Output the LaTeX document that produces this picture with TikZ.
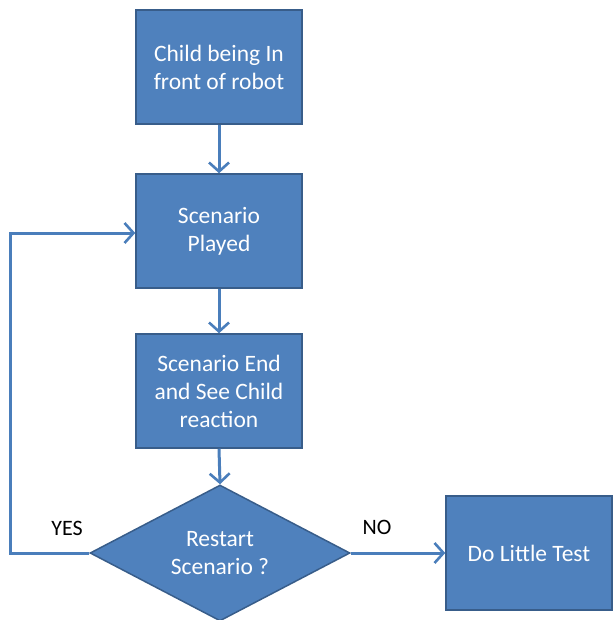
\documentclass[tikz,border=0pt]{standalone}
\usepackage{fontspec}
\setmainfont{Carlito}
\usetikzlibrary{shapes.geometric,arrows.meta}
\definecolor{boxfill}{HTML}{4F81BD}
\definecolor{boxline}{HTML}{385D8A}
\definecolor{arrowc}{HTML}{4A7EBB}
\tikzset{
  stepbox/.style={draw=boxline, fill=boxfill, line width=1.5pt, text=white,
    minimum width=166pt, minimum height=114pt, inner sep=0pt, align=center,
    font=\fontsize{23.5}{28}\selectfont},
  decision/.style={diamond, draw=boxline, fill=boxfill, line width=1.5pt, text=white,
    minimum width=260pt, minimum height=136pt, shape aspect=1.91, inner sep=0pt, align=center,
    font=\fontsize{23.5}{28}\selectfont},
  conn/.style={draw=arrowc, line width=3pt, -{Straight Barb[length=9pt,width=20pt,line width=2.6pt]}},
  lbl/.style={text=black, font=\fontsize{22}{26}\selectfont}
}
\begin{document}
\begin{tikzpicture}[x=1pt,y=-1pt]
\useasboundingbox (0,0) rectangle (612,620);
\node[stepbox] (b1) at (219,67) {Child being In\\front of robot};
\node[stepbox] (b2) at (219,231) {Scenario\\Played};
\node[stepbox] (b3) at (219,391) {Scenario End\\and See Child\\reaction};
\node[decision] (d) at (220,553) {Restart\\Scenario ?};
\node[stepbox] (b4) at (529,553) {Do Little Test};
\coordinate (c1) at (10,553);
\coordinate (c2) at (10,233);
\draw[conn] (b1.south) -- (b2.north);
\draw[conn] (b2.south) -- (b3.north);
\draw[conn] (b3.south) -- (d.north);
\draw[conn] (d.west) -- (c1) -- (c2) -- (b2.west |- c2);
\draw[conn] (d.east) -- (b4.west);
\node[lbl] (yes) at (67,528) {YES};
\node[lbl] (no) at (377,527) {NO};
\end{tikzpicture}
\end{document}
